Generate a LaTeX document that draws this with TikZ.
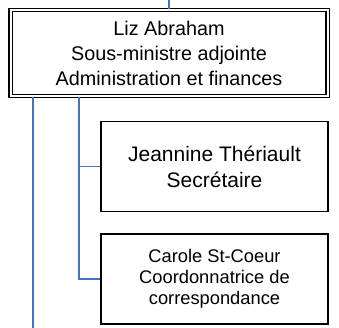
\documentclass[tikz,border=0pt]{standalone}
\usepackage{fontspec}
\setmainfont{Liberation Sans}
\usepackage{tikz}
\usetikzlibrary{positioning}
\definecolor{lienbleu}{RGB}{68,114,196}

\begin{document}
\begin{tikzpicture}[x=1pt, y=-1pt,
  poste/.style={rectangle, draw, line width=1.2pt, align=center, inner sep=0pt,
    minimum width=227pt, minimum height=90pt, font=\fontsize{21}{26}\selectfont},
  chef/.style={poste, double, line width=1.1pt, double distance=2pt,
    minimum width=317pt, minimum height=86pt, font=\fontsize{19.8}{25}\selectfont},
  lien/.style={draw=lienbleu, line width=1.4pt}]
  \useasboundingbox (0,0) rectangle (339,328);
  \node[chef] (liz) at (169,53) {Liz Abraham\\Sous-ministre adjointe\\Administration et finances};
  \node[poste] (jeannine) at (214.5,166.5) {Jeannine Thériault\\Secrétaire};
  \node[poste, font=\fontsize{18.3}{21}\selectfont] (carole) at (214.5,279)
    {Carole St-Coeur\\Coordonnatrice de\\correspondance};
  \coordinate (haut) at (169,0);
  \coordinate (gauche) at (33,97);
  \coordinate (bas) at (33,328);
  \coordinate (branche) at (79,97);
  \draw[lien] (haut) -- (liz);
  \draw[lien] (gauche) -- (bas);
  \draw[lien] (branche) |- (jeannine.west);
  \draw[lien] (branche) |- (carole.west);
\end{tikzpicture}
\end{document}
